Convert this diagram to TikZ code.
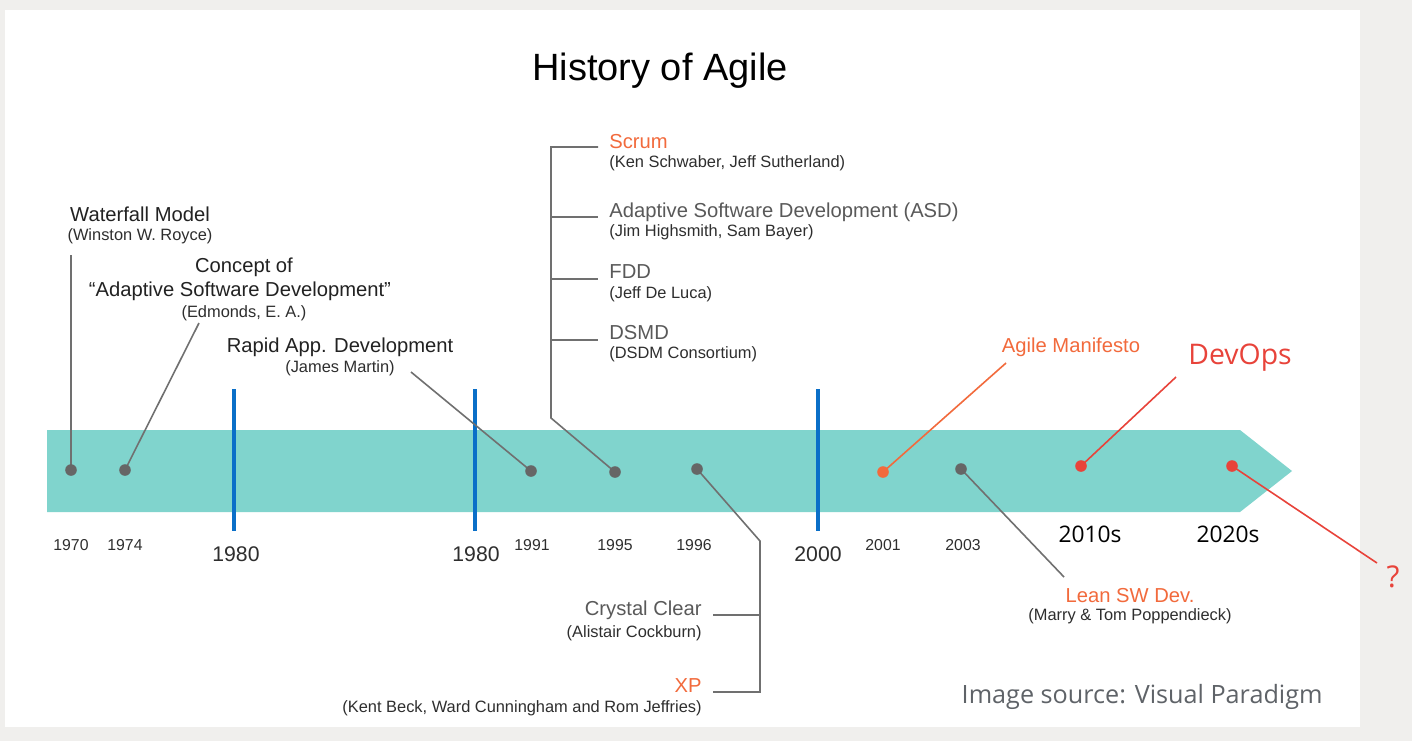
\documentclass[tikz,border=0pt]{standalone}
\usepackage{fontspec}
\setmainfont{Liberation Sans}
\newfontfamily\osans{Open Sans}
\definecolor{bgout}{HTML}{F0EFED}
\definecolor{bandc}{HTML}{80D4CD}
\definecolor{tickc}{HTML}{0A6FC8}
\definecolor{connc}{HTML}{707070}
\definecolor{dotc}{HTML}{666666}
\definecolor{orng}{HTML}{F26A3C}
\definecolor{redd}{HTML}{E8433A}
\definecolor{lblgray}{HTML}{595959}
\definecolor{darktxt}{HTML}{222222}
\definecolor{subtxt}{HTML}{2E2E2E}
\definecolor{srcgray}{HTML}{5F6368}
\tikzset{
  lbl/.style={inner sep=0, anchor=base, font=\fontsize{10.1}{12}\selectfont, text=darktxt},
  glbl/.style={lbl, text=lblgray},
  olbl/.style={lbl, text=orng},
  sublbl/.style={inner sep=0, anchor=base, font=\fontsize{8.2}{10}\selectfont, text=subtxt},
  yr/.style={inner sep=0, anchor=base, font=\fontsize{7.9}{9}\selectfont, text=subtxt},
  bigyr/.style={inner sep=0, anchor=base, font=\fontsize{10.6}{12}\selectfont, text=subtxt},
  decade/.style={inner sep=0, anchor=base, font=\osans\fontsize{11.4}{13}\selectfont, text=black},
  conn/.style={draw=connc, line width=0.8pt},
  oconn/.style={draw=orng, line width=0.8pt},
  rconn/.style={draw=redd, line width=0.8pt},
  tickline/.style={draw=tickc, line width=2.2pt},
  dot/.style={circle, fill=dotc, inner sep=0, minimum size=5.8pt},
  odot/.style={dot, fill=orng},
  rdot/.style={dot, fill=redd}
}
\begin{document}
\begin{tikzpicture}[x=0.5pt,y=-0.5pt]
\useasboundingbox (0,0) rectangle (1412,741);
\fill[bgout] (0,0) rectangle (1412,741);
\fill[white] (5,10) rectangle (1360,727);
% band
\fill[bandc] (47,430) -- (1240,430) -- (1292,471) -- (1240,512) -- (47,512) -- cycle;
% decade ticks
\coordinate (t1a) at (234,389); \coordinate (t1b) at (234,531);
\coordinate (t2a) at (475,389); \coordinate (t2b) at (475,531);
\coordinate (t3a) at (818,389); \coordinate (t3b) at (818,531);
\draw[tickline] (t1a) -- (t1b);
\draw[tickline] (t2a) -- (t2b);
\draw[tickline] (t3a) -- (t3b);
% title
\node[inner sep=0, anchor=base, font=\fontsize{19}{22}\selectfont] (title) at (660,80) {History of Agile};
% dot positions
\coordinate (p1970) at (71,470);
\coordinate (p1974) at (125,470);
\coordinate (p1991) at (531,471);
\coordinate (p1995) at (615,472);
\coordinate (p1996) at (697,469);
\coordinate (p2001) at (883,472);
\coordinate (p2003) at (961,469);
\coordinate (p2010) at (1081,466);
\coordinate (p2020) at (1232,466);
% labels
\node[lbl] (wf) at (140,221) {Waterfall Model};
\node[sublbl] (wfs) at (140,240) {(Winston W. Royce)};
\node[lbl] (co1) at (244,272) {Concept of};
\node[lbl] (co2) at (240,296) {“Adaptive Software Development”};
\node[sublbl] (co3) at (244,317) {(Edmonds, E. A.)};
\node[lbl] (rad) at (340,352) {Rapid App. Development};
\node[sublbl] (rads) at (340,372) {(James Martin)};
\node[olbl, anchor=base west] (scrum) at (609,148) {Scrum};
\node[sublbl, anchor=base west] (scrums) at (609,167) {(Ken Schwaber, Jeff Sutherland)};
\node[glbl, anchor=base west] (asd) at (609,217) {Adaptive Software Development (ASD)};
\node[sublbl, anchor=base west] (asds) at (609,236) {(Jim Highsmith, Sam Bayer)};
\node[glbl, anchor=base west] (fdd) at (609,278) {FDD};
\node[sublbl, anchor=base west] (fdds) at (609,298) {(Jeff De Luca)};
\node[glbl, anchor=base west] (dsmd) at (609,339) {DSMD};
\node[sublbl, anchor=base west] (dsmds) at (609,358) {(DSDM Consortium)};
\node[glbl, anchor=base east] (cc) at (702,615) {Crystal Clear};
\node[sublbl, anchor=base east] (ccs) at (702,637) {(Alistair Cockburn)};
\node[olbl, anchor=base east] (xp) at (702,692) {XP};
\node[sublbl, anchor=base east] (xps) at (702,712) {(Kent Beck, Ward Cunningham and Rom Jeffries)};
\node[olbl] (am) at (1071,352) {Agile Manifesto};
\node[inner sep=0, anchor=base west, font=\osans\fontsize{14.2}{16}\selectfont, text=redd] (devops) at (1188,364) {DevOps};
\node[olbl] (lean) at (1130,602) {Lean SW Dev.};
\node[sublbl] (leans) at (1130,620) {(Marry \& Tom Poppendieck)};
\node[inner sep=0, anchor=base, font=\osans\fontsize{15}{17}\selectfont, text=redd] (q) at (1393,587) {?};
% years
\node[yr] (y1970) at (71,550) {1970};
\node[yr] (y1974) at (125,550) {1974};
\node[bigyr] (y1980a) at (236,561) {1980};
\node[bigyr] (y1980b) at (476,561) {1980};
\node[yr] (y1991) at (532,550) {1991};
\node[yr] (y1995) at (615,550) {1995};
\node[yr] (y1996) at (694,550) {1996};
\node[bigyr] (y2000) at (818,561) {2000};
\node[yr] (y2001) at (883,550) {2001};
\node[yr] (y2003) at (963,550) {2003};
\node[decade] (y2010) at (1090,542) {2010s};
\node[decade] (y2020) at (1228,542) {2020s};
\node[inner sep=0, anchor=base east, font=\osans\fontsize{12.6}{14}\selectfont, text=srcgray] (src) at (1323,703) {Image source: Visual Paradigm};
% connector ends
\coordinate (wfe) at (71,255);
\coordinate (coe) at (199,323);
\coordinate (rade) at (411,372);
\coordinate (b95) at (551,418);
\coordinate (b95top) at (551,147);
\coordinate (tk1) at (598,147);
\coordinate (tk2a) at (551,217); \coordinate (tk2) at (598,217);
\coordinate (tk3a) at (551,279); \coordinate (tk3) at (598,279);
\coordinate (tk4a) at (551,340); \coordinate (tk4) at (598,340);
\coordinate (b96) at (760,541);
\coordinate (b96bot) at (760,692);
\coordinate (xpt) at (713,692);
\coordinate (cct) at (713,615); \coordinate (ccb) at (760,615);
\coordinate (ame) at (1006,363);
\coordinate (dve) at (1176,377);
\coordinate (lne) at (1064,577);
\coordinate (qe) at (1377,563);
% connectors
\draw[conn] (p1970) -- (wfe);
\draw[conn] (p1974) -- (coe);
\draw[conn] (p1991) -- (rade);
\draw[conn] (p1995) -- (b95) -- (b95top) -- (tk1);
\draw[conn] (tk2a) -- (tk2);
\draw[conn] (tk3a) -- (tk3);
\draw[conn] (tk4a) -- (tk4);
\draw[conn] (p1996) -- (b96) -- (b96bot) -- (xpt);
\draw[conn] (ccb) -- (cct);
\draw[oconn] (p2001) -- (ame);
\draw[rconn] (p2010) -- (dve);
\draw[conn] (p2003) -- (lne);
\draw[rconn] (p2020) -- (qe);
% dots
\node[dot] (d1970) at (p1970) {};
\node[dot] (d1974) at (p1974) {};
\node[dot] (d1991) at (p1991) {};
\node[dot] (d1995) at (p1995) {};
\node[dot] (d1996) at (p1996) {};
\node[odot] (d2001) at (p2001) {};
\node[dot] (d2003) at (p2003) {};
\node[rdot] (d2010) at (p2010) {};
\node[rdot] (d2020) at (p2020) {};
\end{tikzpicture}
\end{document}
